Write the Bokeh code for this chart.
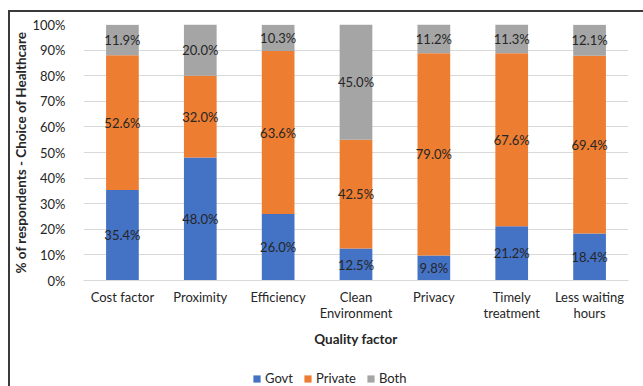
import numpy as np
from bokeh.plotting import figure
from bokeh.layouts import column
from bokeh.models import (ColumnDataSource, Legend, LegendItem, PrintfTickFormatter,
                          Range1d, FactorRange)
from bokeh.core.properties import value
from bokeh.embed import file_html
from bokeh.resources import INLINE

# Share of respondents (%) choosing each type of healthcare, by quality factor
categories = ["Cost factor", "Proximity", "Efficiency", "Clean\nEnvironment",
              "Privacy", "Timely\ntreatment", "Less waiting\nhours"]
govt = [35.4, 48.0, 26.0, 12.5, 9.8, 21.2, 18.4]
private = [52.6, 32.0, 63.6, 42.5, 79.0, 67.6, 69.4]
both = [11.9, 20.0, 10.3, 45.0, 11.2, 11.3, 12.1]
series = ["Govt", "Private", "Both"]
colors = ["#4472C4", "#ED7D31", "#A5A5A5"]

FONT = "Lato"
TEXT = "#262626"

src = ColumnDataSource(dict(cat=categories, Govt=govt, Private=private, Both=both))

p = figure(x_range=FactorRange(*categories), y_range=Range1d(0, 100),
           width=633, height=340, output_backend="svg", toolbar_location=None,
           min_border_left=70, min_border_right=15, min_border_top=12,
           min_border_bottom=72)
p.outline_line_color = None
p.background_fill_color = "white"
p.border_fill_color = "white"

renderers = p.vbar_stack(series, x="cat", width=0.42, color=colors, source=src,
                         line_color=None)

# segment labels at the middle of each stacked piece
vals = np.array([govt, private, both])
tops = np.cumsum(vals, axis=0)
mids = tops - vals / 2
for i in range(3):
    lab = ColumnDataSource(dict(x=categories, y=list(mids[i]),
                                t=[f"{v:.1f}%" for v in vals[i]]))
    p.text(x="x", y="y", text="t", source=lab, text_align="center",
           text_baseline="middle", text_font=value(FONT), text_font_size="13px",
           text_color=TEXT)

# axes
p.xgrid.grid_line_color = None
p.ygrid.grid_line_color = "#D9D9D9"
p.ygrid.grid_line_width = 1
p.yaxis.ticker = list(range(0, 101, 10))
p.yaxis.formatter = PrintfTickFormatter(format="%d%%")
p.yaxis.axis_line_color = None
p.yaxis.major_tick_line_color = None
p.yaxis.minor_tick_line_color = None
p.yaxis.major_label_standoff = 12
p.yaxis.axis_label = "% of respondents - Choice of Healthcare"
p.yaxis.axis_label_standoff = 0

p.xaxis.axis_line_color = "#D9D9D9"
p.xaxis.major_tick_line_color = None
p.xaxis.major_label_standoff = 2
p.xaxis.major_label_text_line_height = 1.0
p.xaxis.axis_label = "Quality factor"
p.xaxis.axis_label_standoff = 7

for ax in (p.xaxis, p.yaxis):
    ax.major_label_text_font = FONT
    ax.major_label_text_font_size = "13px"
    ax.major_label_text_color = TEXT
    ax.axis_label_text_font = FONT
    ax.axis_label_text_font_size = "13.5px"
    ax.axis_label_text_font_style = "bold"
    ax.axis_label_text_color = TEXT

# legend strip under the chart; its stack sits outside the strip's visible range,
# so only the legend keys show
leg = figure(width=633, height=34, output_backend="svg", toolbar_location=None,
             x_range=FactorRange(*categories), y_range=Range1d(1000, 1001),
             x_axis_location=None, y_axis_location=None, min_border=0)
leg.outline_line_color = None
leg.grid.grid_line_color = None
leg.border_fill_color = "white"
keys = leg.vbar_stack(series, x="cat", width=0.42, color=colors, source=src,
                      line_color=None)
legend = Legend(items=[LegendItem(label=s, renderers=[r]) for s, r in zip(series, keys)],
                orientation="horizontal", location=(169, 0),
                label_text_font=FONT, label_text_font_size="13px",
                label_text_color=TEXT, glyph_width=9, glyph_height=9,
                spacing=10, label_standoff=4, border_line_color=None,
                background_fill_alpha=0, margin=0, padding=0)
leg.add_layout(legend, "center")

# chart-area frame: left and top edges
root = column(p, leg, spacing=0, margin=(10, 0, 0, 8),
              styles={"border-left": "2px solid #3a3a3a",
                      "border-top": "2px solid #3a3a3a"})

open("out.html", "w").write(file_html(root, INLINE))
